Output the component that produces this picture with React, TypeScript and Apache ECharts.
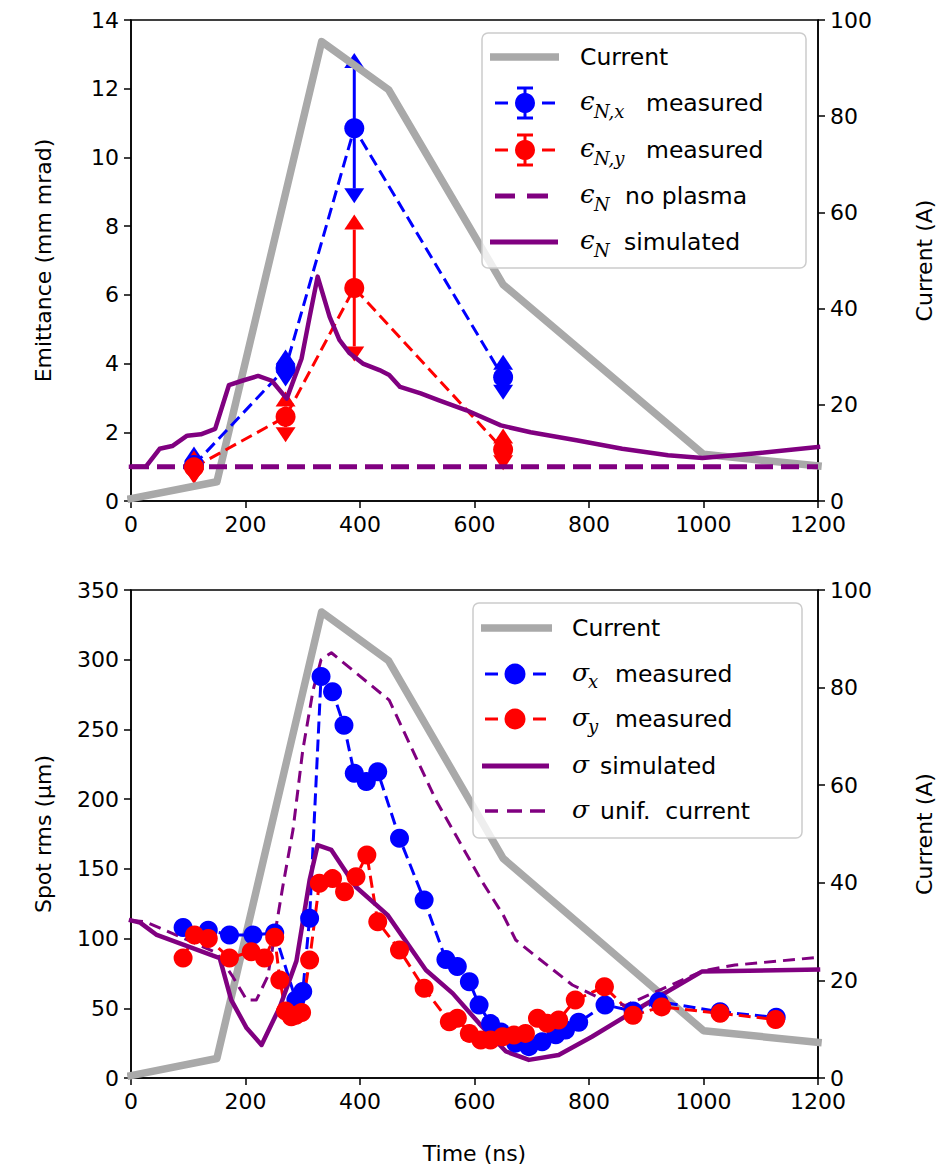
import React, { useEffect, useRef } from "react";
import * as echarts from "echarts";

// ---------- data ----------
const currentT = [0, 150, 333, 450, 650, 1000, 1200];
const currentA = [0.5, 4, 95.5, 85.5, 45, 9.7, 7.3];

// top panel: emittance
const epsT = [110, 270, 390, 650];
const epsX = [1.05, 3.87, 10.85, 3.6];
const epsXErr = [0.1, 0.1, 1.75, 0.22];
const epsY = [0.98, 2.45, 6.2, 1.5];
const epsYErr = [0.05, 0.3, 1.7, 0.17];
const noPlasmaT = [0, 1200];
const noPlasma = [1.0, 1.0];
const simEpsT = [0, 26, 50, 72, 98, 122, 147, 171, 194, 222, 246, 272, 298, 312, 326, 347, 364, 382, 405, 434, 451, 470, 506, 538, 586, 646, 698, 778, 858, 938, 998, 1098, 1200];
const simEps = [1.0, 1.0, 1.52, 1.6, 1.9, 1.94, 2.1, 3.37, 3.5, 3.64, 3.5, 2.98, 4.15, 5.36, 6.53, 5.36, 4.69, 4.3, 4.0, 3.81, 3.67, 3.32, 3.13, 2.93, 2.64, 2.2, 2.0, 1.77, 1.52, 1.33, 1.25, 1.4, 1.57];

// bottom panel: spot size
const sigXT = [91, 135, 172, 213, 251, 288, 300, 312, 332, 352, 372, 390, 411, 431, 469, 512, 550, 570, 591, 608, 628, 646, 672, 695, 718, 742, 759, 782, 828, 877, 922, 1029, 1127];
const sigX = [108, 106, 102.6, 102.6, 104, 56, 62, 114.6, 288, 277, 253, 218.6, 212.6, 219.7, 172, 127.7, 85, 80, 69, 52.4, 39, 33, 25, 22.5, 26, 31, 34.4, 40, 52.4, 48, 54.8, 47.5, 43.5];
const sigYT = [91, 111, 135, 172, 210, 233, 251, 260, 270, 280, 288, 298, 312, 329, 352, 373, 393, 412, 431, 469, 512, 556, 570, 591, 611, 628, 649, 669, 689, 710, 727, 747, 776, 827, 877, 927, 1029, 1126];
const sigY = [86, 102.6, 100, 86, 90.6, 86, 101, 70.3, 48, 44, 45, 47, 84.6, 139.7, 143, 133.6, 144.4, 160, 112, 91.8, 64.3, 40.4, 42.8, 32, 27.3, 27.3, 29.6, 30.8, 32, 42.8, 39.2, 41.6, 56, 65.5, 45, 51, 46.4, 42];
const simSigT = [0, 16, 45, 155, 175, 202, 228, 260, 289, 312, 326, 350, 393, 448, 515, 562, 608, 655, 695, 747, 805, 887, 997, 1200];
const simSig = [113, 111.4, 102.6, 86, 56, 35.8, 23.7, 51, 84, 142, 167, 163.6, 137, 117, 77.5, 60.7, 39.2, 19, 13, 16.5, 29.6, 50, 76.3, 77.8];
const unifT = [0, 25, 50, 149, 178, 202, 219, 239, 265, 283, 300, 318, 332, 350, 451, 533, 613, 650, 672, 702, 771, 815, 863, 1000, 1055, 1200];
const unifSig = [113, 112, 107.6, 90, 72.5, 56, 56, 73, 137, 178, 235, 278, 300, 305, 271, 199, 141, 117, 99, 89, 66.7, 58, 52, 77, 81, 86.5];

// ---------- style ----------
const FONT = "'DejaVu Sans', sans-serif";
const MATH = "'DejaVu Serif', serif";
const GRAY = "#a9a9a9";
const BLUE = "#0000ff";
const RED = "#ff0000";
const PURPLE = "#800080";
const TICK_FS = 22;
const LABEL_FS = 22;
const LEG_FS = 23.5;

const zip = (a: number[], b: number[]) => a.map((v, i) => [v, b[i]]);

function errSeries(t: number[], v: number[], e: number[], color: string) {
  return {
    type: "custom",
    xAxisIndex: 0,
    yAxisIndex: 0,
    silent: true,
    clip: false,
    data: t.map((x, i) => [x, v[i] - e[i], v[i] + e[i]]),
    encode: { x: 0, y: [1, 2] },
    renderItem: (params: any, api: any) => {
      const lo = api.coord([api.value(0), api.value(1)]);
      const hi = api.coord([api.value(0), api.value(2)]);
      const w = 10;
      const h = 15;
      return {
        type: "group",
        children: [
          { type: "line", shape: { x1: lo[0], y1: lo[1], x2: hi[0], y2: hi[1] }, style: { stroke: color, lineWidth: 3 } },
          { type: "polygon", shape: { points: [[hi[0] - w, hi[1]], [hi[0] + w, hi[1]], [hi[0], hi[1] - h]] }, style: { fill: color } },
          { type: "polygon", shape: { points: [[lo[0] - w, lo[1]], [lo[0] + w, lo[1]], [lo[0], lo[1] + h]] }, style: { fill: color } },
        ],
      };
    },
  };
}

function lineSeries(xi: number, yi: number, data: number[][], color: string, width: number, dash: any, symbolSize = 0) {
  return {
    type: "line",
    xAxisIndex: xi,
    yAxisIndex: yi,
    data,
    silent: true,
    symbol: symbolSize ? "circle" : "none",
    symbolSize,
    showSymbol: symbolSize > 0,
    itemStyle: { color, borderWidth: 0 },
    lineStyle: { color, width, type: dash, join: "round", cap: dash === "solid" ? "square" : "butt" },
    emphasis: { disabled: true },
  };
}

const plain = (v: number) => String(v);

function xAxis(gi: number, name?: string) {
  return {
    gridIndex: gi,
    type: "value",
    min: 0,
    max: 1200,
    interval: 200,
    name: name || "",
    nameLocation: "middle",
    nameGap: 64,
    nameTextStyle: { fontSize: LABEL_FS, fontFamily: FONT, color: "#000" },
    axisLine: { show: true, onZero: false, lineStyle: { color: "#000", width: 1.5 } },
    axisTick: { show: true, inside: false, length: 7, lineStyle: { color: "#000", width: 1.5 } },
    axisLabel: { fontSize: TICK_FS, fontFamily: FONT, color: "#000", margin: 12, formatter: plain },
    splitLine: { show: false },
  };
}

function yAxis(gi: number, pos: string, max: number, interval: number, name: string, gap: number) {
  return {
    gridIndex: gi,
    type: "value",
    position: pos,
    min: 0,
    max,
    interval,
    name,
    nameLocation: "middle",
    nameRotate: 90,
    nameGap: gap,
    nameTextStyle: { fontSize: LABEL_FS, fontFamily: FONT, color: "#000" },
    axisLine: { show: true, onZero: false, lineStyle: { color: "#000", width: 1.5 } },
    axisTick: { show: true, inside: false, length: 7, lineStyle: { color: "#000", width: 1.5 } },
    axisLabel: { fontSize: TICK_FS, fontFamily: FONT, color: "#000", margin: 12, formatter: plain },
    splitLine: { show: false },
  };
}

// ---------- legend helpers ----------
function txt(x: number, y: number, text: string, opts: any = {}) {
  return {
    type: "text",
    x,
    y,
    z: 100,
    silent: true,
    style: {
      text,
      fill: "#000",
      fontSize: opts.fontSize || LEG_FS,
      fontFamily: opts.fontFamily || FONT,
      fontStyle: opts.italic ? "italic" : "normal",
      align: "left",
      verticalAlign: "middle",
    },
  };
}
function seg(x1: number, y1: number, x2: number, y2: number, color: string, w: number) {
  return { type: "line", z: 100, silent: true, shape: { x1, y1, x2, y2 }, style: { stroke: color, lineWidth: w } };
}
function dot(cx: number, cy: number, r: number, color: string) {
  return { type: "circle", z: 100, silent: true, shape: { cx, cy, r }, style: { fill: color } };
}
function box(x: number, y: number, w: number, h: number) {
  return {
    type: "rect",
    z: 99,
    silent: true,
    shape: { x, y, width: w, height: h, r: 6 },
    style: { fill: "rgba(255,255,255,0.8)", stroke: "#cccccc", lineWidth: 1.5 },
  };
}

function topLegend() {
  const ys = [57, 103, 150, 196, 242];
  const tx = 580;
  const els: any[] = [box(482, 33, 324, 235)];
  els.push(seg(490, ys[0], 559, ys[0], GRAY, 7.5));
  els.push(txt(tx, ys[0], "Current"));
  [[BLUE, "N,x", ys[1]], [RED, "N,y", ys[2]]].forEach(([c, sub, y]: any) => {
    els.push(seg(495, y, 508, y, c, 3));
    els.push(seg(542, y, 555, y, c, 3));
    els.push(seg(525, y - 15, 525, y + 15, c, 3));
    els.push(seg(517, y - 15, 533, y - 15, c, 3));
    els.push(seg(517, y + 15, 533, y + 15, c, 3));
    els.push(dot(525, y, 10, c));
    els.push(txt(tx, y - 2, "ϵ", { fontFamily: MATH, italic: true, fontSize: 26 }));
    els.push(txt(tx + 14, y + 8, sub, { fontFamily: MATH, italic: true, fontSize: 18 }));
    els.push(txt(646, y, "measured"));
  });
  els.push(seg(495, ys[3], 515, ys[3], PURPLE, 5));
  els.push(seg(527, ys[3], 548, ys[3], PURPLE, 5));
  els.push(txt(tx, ys[3] - 2, "ϵ", { fontFamily: MATH, italic: true, fontSize: 26 }));
  els.push(txt(tx + 14, ys[3] + 8, "N", { fontFamily: MATH, italic: true, fontSize: 18 }));
  els.push(txt(625, ys[3], "no plasma"));
  els.push(seg(490, ys[4], 558, ys[4], PURPLE, 5));
  els.push(txt(tx, ys[4] - 2, "ϵ", { fontFamily: MATH, italic: true, fontSize: 26 }));
  els.push(txt(tx + 14, ys[4] + 8, "N", { fontFamily: MATH, italic: true, fontSize: 18 }));
  els.push(txt(624, ys[4], "simulated"));
  return els;
}

function bottomLegend() {
  const ys = [628, 674, 719, 766, 811];
  const tx = 572;
  const els: any[] = [box(473, 603, 329, 235)];
  els.push(seg(481, ys[0], 552, ys[0], GRAY, 7.5));
  els.push(txt(tx, ys[0], "Current"));
  [[BLUE, "x", ys[1]], [RED, "y", ys[2]]].forEach(([c, sub, y]: any) => {
    els.push(seg(485, y, 498, y, c, 3));
    els.push(seg(533, y, 546, y, c, 3));
    els.push(dot(515, y, 10.5, c));
    els.push(txt(tx, y - 2, "σ", { fontFamily: MATH, italic: true, fontSize: 25 }));
    els.push(txt(tx + 16, y + 7, sub, { fontFamily: MATH, italic: true, fontSize: 18 }));
    els.push(txt(615, y, "measured"));
  });
  els.push(seg(482, ys[3], 549, ys[3], PURPLE, 5));
  els.push(txt(tx, ys[3] - 2, "σ", { fontFamily: MATH, italic: true, fontSize: 25 }));
  els.push(txt(600, ys[3], "simulated"));
  els.push(seg(485, ys[4], 498, ys[4], PURPLE, 3.5));
  els.push(seg(507, ys[4], 522, ys[4], PURPLE, 3.5));
  els.push(seg(530, ys[4], 545, ys[4], PURPLE, 3.5));
  els.push(txt(tx, ys[4] - 2, "σ", { fontFamily: MATH, italic: true, fontSize: 25 }));
  els.push(txt(600, ys[4], "unif.  current"));
  return els;
}

export default function App() {
  const ref = useRef<HTMLDivElement>(null);
  useEffect(() => {
    document.body.style.margin = "0";
    const chart = echarts.init(ref.current!, null, { renderer: "svg" });
    const gridBase = { show: true, borderColor: "#000", borderWidth: 1.5, backgroundColor: "transparent", containLabel: false };
    chart.setOption({
      animation: false,
      backgroundColor: "#fff",
      grid: [
        { ...gridBase, left: 131, top: 20, width: 689, height: 481 },
        { ...gridBase, left: 131, top: 590, width: 689, height: 488 },
      ],
      xAxis: [xAxis(0), xAxis(1, "Time (ns)")],
      yAxis: [
        yAxis(0, "left", 14, 2, "Emittance (mm mrad)", 77),
        yAxis(0, "right", 100, 20, "Current (A)", 95),
        yAxis(1, "left", 350, 50, "Spot rms (µm)", 77),
        yAxis(1, "right", 100, 20, "Current (A)", 95),
      ],
      series: [
        lineSeries(0, 1, zip(currentT, currentA), GRAY, 7.5, "solid"),
        errSeries(epsT, epsX, epsXErr, BLUE),
        lineSeries(0, 0, zip(epsT, epsX), BLUE, 3, [12, 6], 20),
        errSeries(epsT, epsY, epsYErr, RED),
        lineSeries(0, 0, zip(epsT, epsY), RED, 3, [12, 6], 20),
        lineSeries(0, 0, zip(noPlasmaT, noPlasma), PURPLE, 5, [18, 8]),
        lineSeries(0, 0, zip(simEpsT, simEps), PURPLE, 4.5, "solid"),

        lineSeries(1, 3, zip(currentT, currentA), GRAY, 7.5, "solid"),
        lineSeries(1, 2, zip(sigXT, sigX), BLUE, 3, [12, 6], 19),
        lineSeries(1, 2, zip(sigYT, sigY), RED, 3, [12, 6], 19),
        lineSeries(1, 2, zip(simSigT, simSig), PURPLE, 4.5, "solid"),
        lineSeries(1, 2, zip(unifT, unifSig), PURPLE, 3, [12, 7]),
      ],
      graphic: [...topLegend(), ...bottomLegend()],
    });
    return () => chart.dispose();
  }, []);
  return <div ref={ref} style={{ width: 943, height: 1171 }} />;
}
